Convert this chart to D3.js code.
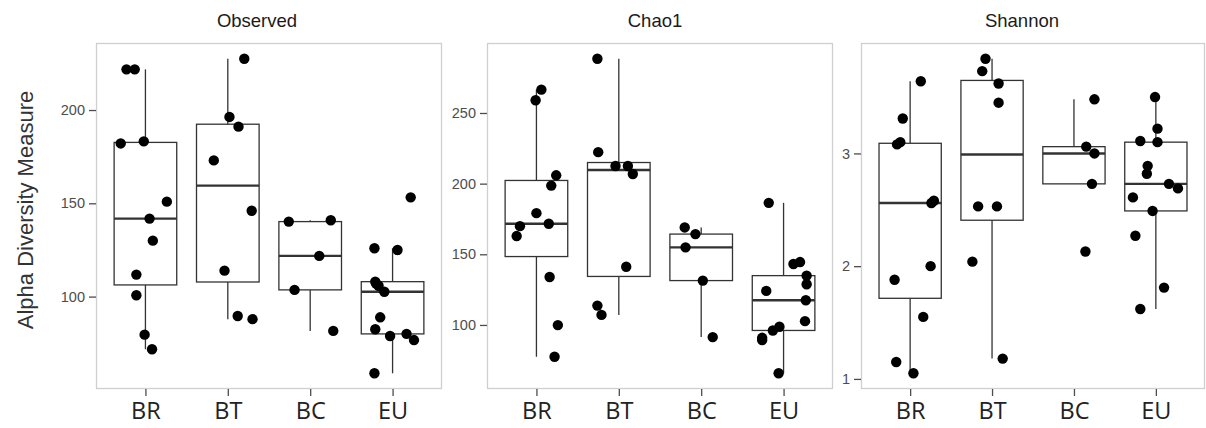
<!DOCTYPE html>
<html>
<head>
<meta charset="utf-8">
<script src="https://cdn.jsdelivr.net/npm/d3@7"></script>
<style>
  body { margin: 0; background: #fff; }
  svg { display: block; font-family: "Liberation Sans", Arial, sans-serif; }
</style>
</head>
<body>
<svg id="chart" width="1206" height="428"></svg>
<script>
// groups on the x axis
const groups = ['BR', 'BT', 'BC', 'EU'];
const measures = ['Observed', 'Chao1', 'Shannon'];

// values per group (BR, BT, BC, EU)
const observedValues = [
  [221.8, 221.8, 182.1, 183.2, 150.9, 141.8, 130.0, 111.8, 100.7, 79.6, 71.8],
  [227.5, 196.3, 191.1, 173.0, 146.0, 113.9, 89.6, 87.9],
  [140.2, 140.9, 121.8, 103.6, 81.6],
  [153.2, 125.9, 125.0, 108.0, 107.0, 105.8, 102.6, 88.9, 82.5, 78.9, 80.0, 76.7, 58.9]
];
const chao1Values = [
  [266.5, 259.0, 205.9, 198.6, 179.1, 171.6, 169.9, 162.9, 133.9, 99.9, 77.5],
  [288.4, 222.3, 212.5, 212.5, 206.8, 141.2, 113.7, 107.1],
  [169.0, 164.3, 154.9, 131.4, 91.4],
  [186.4, 143.1, 144.5, 134.9, 128.8, 124.1, 117.5, 102.7, 98.7, 96.1, 90.9, 89.3, 65.8]
];
const shannonValues = [
  [3.64, 3.31, 3.10, 3.08, 2.58, 2.56, 2.00, 1.88, 1.55, 1.15, 1.05],
  [3.84, 3.73, 3.62, 3.45, 2.53, 2.53, 2.04, 1.18],
  [3.48, 3.06, 3.00, 2.73, 2.13],
  [3.50, 3.22, 3.11, 3.10, 2.89, 2.82, 2.73, 2.69, 2.61, 2.49, 2.27, 1.81, 1.62]
];

// horizontal jitter of each point (in category widths)
const observedJitter = [
  [-0.23, -0.13, -0.30, -0.02, 0.26, 0.05, 0.09, -0.11, -0.11, -0.01, 0.08],
  [0.20, 0.02, 0.13, -0.17, 0.29, -0.04, 0.12, 0.30],
  [-0.26, 0.25, 0.11, -0.19, 0.28],
  [0.22, -0.22, 0.06, -0.21, -0.20, -0.17, -0.10, -0.15, -0.21, -0.03, 0.17, 0.26, -0.22]
];
const chao1Jitter = [
  [0.06, -0.01, 0.24, 0.18, 0.0, 0.15, -0.20, -0.24, 0.16, 0.26, 0.22],
  [-0.26, -0.25, -0.04, 0.11, 0.17, 0.09, -0.26, -0.21],
  [-0.20, -0.07, -0.19, 0.02, 0.14],
  [-0.18, 0.12, 0.20, 0.28, 0.28, -0.21, 0.27, 0.26, -0.05, -0.13, -0.26, -0.26, -0.06]
];
const shannonJitter = [
  [0.13, -0.09, -0.12, -0.16, 0.29, 0.26, 0.25, -0.19, 0.16, -0.17, 0.04],
  [-0.08, -0.12, 0.08, 0.08, -0.17, 0.06, -0.24, 0.13],
  [0.25, 0.15, 0.25, 0.22, 0.14],
  [-0.01, 0.02, -0.19, 0.02, -0.10, -0.11, 0.16, 0.27, -0.28, -0.04, -0.25, 0.10, -0.19]
];

const observedTicks = [100, 150, 200];
const chao1Ticks = [100, 150, 200, 250];
const shannonTicks = [1, 2, 3];

const yLabel = 'Alpha Diversity Measure';

const svg = d3.select('#chart');
const panelTop = 43, panelBottom = 389;
const panelLeft = [96, 487, 861];
const panelWidth = [346, 346, 344];
const titleX = [257, 655, 1022];

const panels = [
  { values: observedValues, jitter: observedJitter, ticks: observedTicks },
  { values: chao1Values, jitter: chao1Jitter, ticks: chao1Ticks },
  { values: shannonValues, jitter: shannonJitter, ticks: shannonTicks }
];

panels.forEach((p, i) => {
  const left = panelLeft[i];
  const right = left + panelWidth[i];

  // discrete x scale with ggplot style 0.6 expansion
  const xLin = d3.scaleLinear().domain([0.4, 4.6]).range([left, right]);
  const unit = xLin(2) - xLin(1);
  const xPos = g => xLin(groups.indexOf(g) + 1);

  const all = p.values.flat();
  const ext = d3.extent(all);
  const pad = (ext[1] - ext[0]) * 0.05;
  const y = d3.scaleLinear().domain([ext[0] - pad, ext[1] + pad]).range([panelBottom, panelTop]);

  const g = svg.append('g');

  // panel border
  g.append('rect')
    .attr('x', left + 0.5).attr('y', panelTop + 0.5)
    .attr('width', right - left - 1).attr('height', panelBottom - panelTop - 1)
    .attr('fill', '#fff').attr('stroke', '#cfcfcf').attr('stroke-width', 1.3);

  // title
  svg.append('text')
    .attr('x', titleX[i]).attr('y', 27)
    .attr('text-anchor', 'middle')
    .attr('font-size', 18.5).attr('fill', '#1a1a1a')
    .text(measures[i]);

  // y axis
  const yAxis = svg.append('g')
    .attr('transform', 'translate(' + left + ',0)')
    .call(d3.axisLeft(y).tickValues(p.ticks).tickFormat(d3.format('d'))
      .tickSize(7).tickPadding(4));
  yAxis.select('.domain').remove();
  yAxis.selectAll('.tick line').attr('stroke', '#4d4d4d').attr('stroke-width', 1.3);
  yAxis.selectAll('.tick text').attr('fill', '#4d4d4d').attr('font-size', 14.5)
    .attr('font-family', '"Liberation Sans", Arial, sans-serif');

  // x axis
  const xBand = d3.scalePoint().domain(groups).range([xLin(1), xLin(4)]);
  const xAxis = svg.append('g')
    .attr('transform', 'translate(0,' + panelBottom + ')')
    .call(d3.axisBottom(xBand).tickSize(7).tickPadding(6));
  xAxis.select('.domain').remove();
  xAxis.selectAll('.tick line').attr('stroke', '#4d4d4d').attr('stroke-width', 1.3);
  xAxis.selectAll('.tick text').attr('fill', '#222').attr('font-size', 23.5)
    .attr('font-family', '"Open Sans", sans-serif');

  // boxplots computed from the points
  groups.forEach((grp, k) => {
    const vals = p.values[k].slice().sort(d3.ascending);
    const q1 = d3.quantile(vals, 0.25);
    const med = d3.quantile(vals, 0.5);
    const q3 = d3.quantile(vals, 0.75);
    const iqr = q3 - q1;
    const lo = d3.min(vals.filter(v => v >= q1 - 1.5 * iqr));
    const hi = d3.max(vals.filter(v => v <= q3 + 1.5 * iqr));
    const cx = xPos(grp);
    const hw = unit * 0.38;

    g.append('line')
      .attr('x1', cx).attr('x2', cx).attr('y1', y(q3)).attr('y2', y(hi))
      .attr('stroke', '#333').attr('stroke-width', 1.3);
    g.append('line')
      .attr('x1', cx).attr('x2', cx).attr('y1', y(q1)).attr('y2', y(lo))
      .attr('stroke', '#333').attr('stroke-width', 1.3);
    g.append('rect')
      .attr('x', cx - hw).attr('y', y(q3))
      .attr('width', hw * 2).attr('height', y(q1) - y(q3))
      .attr('fill', 'none').attr('stroke', '#333').attr('stroke-width', 1.3);
    g.append('line')
      .attr('x1', cx - hw).attr('x2', cx + hw).attr('y1', y(med)).attr('y2', y(med))
      .attr('stroke', '#333').attr('stroke-width', 2.4);
  });

  // jittered points
  const pts = [];
  groups.forEach((grp, k) => {
    p.values[k].forEach((v, j) => pts.push({ g: grp, v: v, dx: p.jitter[k][j] }));
  });
  g.selectAll('circle').data(pts)
    .enter().append('circle')
    .attr('cx', d => xPos(d.g) + d.dx * unit)
    .attr('cy', d => y(d.v))
    .attr('r', 5.2)
    .attr('fill', '#000');
});

svg.append('text')
  .attr('transform', 'translate(33,210) rotate(-90)')
  .attr('text-anchor', 'middle')
  .attr('font-size', 22).attr('fill', '#333')
  .text(yLabel);
</script>
</body>
</html>
